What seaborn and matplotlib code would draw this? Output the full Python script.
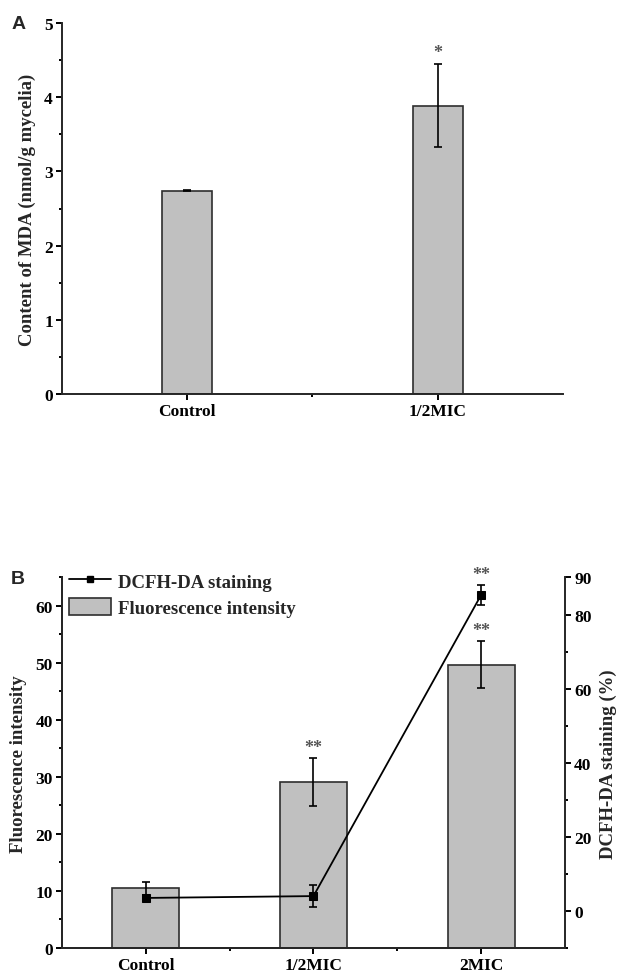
import numpy as np
import pandas as pd
import matplotlib
matplotlib.use("Agg")
import matplotlib.pyplot as plt
import seaborn as sns
from matplotlib.lines import Line2D
from matplotlib.patches import Patch
from matplotlib.ticker import MultipleLocator, FixedLocator

# panel A data
a_groups = ["Control", "1/2MIC"]
a_mda = [2.74, 3.885]
a_err = [0.01, 0.56]
a_marks = ["", "*"]

# panel B data
b_groups = ["Control", "1/2MIC", "2MIC"]
b_fluor = [10.45, 29.1, 49.7]
b_fluor_err = [1.2, 4.2, 4.1]
b_fluor_marks = ["", "**", "**"]
b_dcfh = [3.5, 4.0, 85.3]
b_dcfh_err = [0.8, 2.9, 2.7]
b_dcfh_marks = ["", "", "**"]

sns.set_theme(style="ticks")
plt.rcParams["font.family"] = ["Liberation Serif", "DejaVu Serif"]
plt.rcParams["font.weight"] = "bold"
plt.rcParams["axes.labelweight"] = "bold"
plt.rcParams["axes.linewidth"] = 1.4
for k in ["xtick", "ytick"]:
    plt.rcParams[k + ".major.width"] = 1.4
    plt.rcParams[k + ".minor.width"] = 1.4
    plt.rcParams[k + ".major.size"] = 4
    plt.rcParams[k + ".minor.size"] = 2.5
    plt.rcParams[k + ".labelsize"] = 12.5
    plt.rcParams[k + ".color"] = "black"
    plt.rcParams[k + ".labelcolor"] = "black"
    plt.rcParams[k + ".major.pad"] = 2.5

bar_fill = "#c0c0c0"
bar_edge = "#2e2e2e"
star_color = "#555555"

fig = plt.figure(figsize=(6.19, 9.78), dpi=100)
axA = fig.add_axes([0.100, 0.596, 0.8095, 0.3795])
axB = fig.add_axes([0.100, 0.0297, 0.8128, 0.3788])

# ---- panel A
dfA = pd.DataFrame({"group": a_groups, "mda": a_mda})
sns.barplot(data=dfA, x="group", y="mda", ax=axA, color=bar_fill,
            edgecolor=bar_edge, linewidth=1.2, width=0.2, saturation=1,
            errorbar=None)
xa = np.arange(len(a_groups))
axA.errorbar(xa, a_mda, yerr=a_err, fmt="none", ecolor="black",
             elinewidth=1.2, capsize=3, capthick=1.2)
for x, v, e, m in zip(xa, a_mda, a_err, a_marks):
    if m:
        axA.text(x, v + e + 0.04, m, ha="center", va="bottom",
                 fontsize=13, color=star_color)
axA.set_ylim(0, 5)
axA.set_xlim(-0.5, 1.5)
axA.yaxis.set_major_locator(MultipleLocator(1))
axA.yaxis.set_minor_locator(MultipleLocator(0.5))
axA.xaxis.set_minor_locator(FixedLocator([0.5]))
axA.set_xlabel("")
axA.set_ylabel("Content of MDA (nmol/g mycelia)", fontsize=13.5, labelpad=6)
sns.despine(ax=axA)

# ---- panel B
dfB = pd.DataFrame({"group": b_groups, "fluor": b_fluor})
sns.barplot(data=dfB, x="group", y="fluor", ax=axB, color=bar_fill,
            edgecolor=bar_edge, linewidth=1.2, width=0.4, saturation=1,
            errorbar=None)
xb = np.arange(len(b_groups))
axB.errorbar(xb, b_fluor, yerr=b_fluor_err, fmt="none", ecolor="black",
             elinewidth=1.2, capsize=3, capthick=1.2)
for x, v, e, m in zip(xb, b_fluor, b_fluor_err, b_fluor_marks):
    if m:
        axB.text(x, v + e + 0.4, m, ha="center", va="bottom",
                 fontsize=13, color=star_color)
axB.set_ylim(0, 65)
axB.set_xlim(-0.5, 2.5)
axB.yaxis.set_major_locator(MultipleLocator(10))
axB.yaxis.set_minor_locator(MultipleLocator(5))
axB.xaxis.set_minor_locator(FixedLocator([0.5, 1.5]))
axB.set_xlabel("")
axB.set_ylabel("Fluorescence intensity", fontsize=13.5, labelpad=6)

ax2 = axB.twinx()
ax2.errorbar(xb, b_dcfh, yerr=b_dcfh_err, fmt="none", ecolor="black",
             elinewidth=1.2, capsize=3, capthick=1.2, zorder=3)
sns.lineplot(x=xb, y=b_dcfh, ax=ax2, color="black", linewidth=1.3,
             marker="s", markersize=6, markeredgecolor="black", zorder=4)
for x, v, e, m in zip(xb, b_dcfh, b_dcfh_err, b_dcfh_marks):
    if m:
        ax2.text(x, v + e + 0.5, m, ha="center", va="bottom",
                 fontsize=13, color=star_color)
ax2.set_ylim(-10, 90)
ax2.yaxis.set_major_locator(FixedLocator([0, 20, 40, 60, 80, 90]))
ax2.yaxis.set_minor_locator(FixedLocator([-10, 10, 30, 50, 70]))
ax2.set_ylabel("DCFH-DA staining (%)", fontsize=13.5, labelpad=6)
axB.spines["top"].set_visible(False)
ax2.spines["top"].set_visible(False)
axB.spines["right"].set_visible(False)

handles = [Line2D([0], [0], color="black", lw=1.3, marker="s", markersize=5),
           Patch(facecolor=bar_fill, edgecolor=bar_edge, linewidth=1.2)]
axB.legend(handles, ["DCFH-DA staining", "Fluorescence intensity"],
           loc="upper left", bbox_to_anchor=(0.015, 1.015), frameon=False,
           borderaxespad=0, borderpad=0, handlelength=2.2, handleheight=1.05,
           handletextpad=0.4, labelspacing=0.35,
           prop={"family": "Liberation Serif", "weight": "bold", "size": 13.5})

fig.text(0.018, 0.975, "A", fontsize=14, fontweight="bold",
         family="Liberation Sans", va="center", ha="left")
fig.text(0.018, 0.407, "B", fontsize=14, fontweight="bold",
         family="Liberation Sans", va="center", ha="left")

fig.savefig("out.png", dpi=100)
